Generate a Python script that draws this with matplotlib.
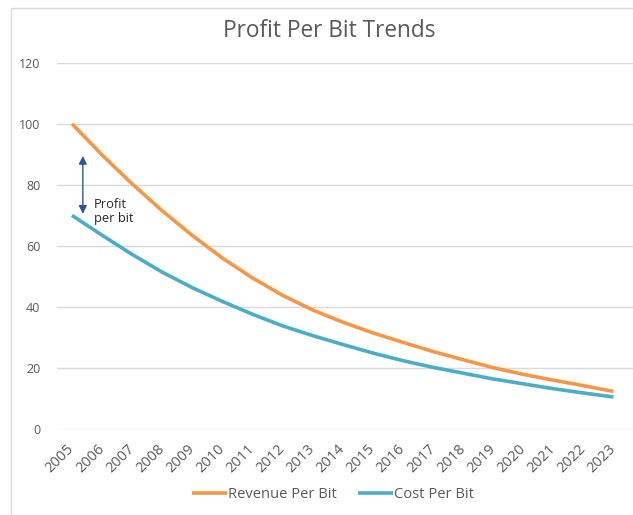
import matplotlib.pyplot as plt
from matplotlib.patches import Rectangle

plt.rcParams['font.family'] = ['Open Sans', 'DejaVu Sans']

years = [str(y) for y in range(2005, 2024)]
revenue_per_bit = [100, 89.8, 80.3, 71.5, 63.4, 56.0, 49.5, 43.8, 39.0, 35.0,
                   31.5, 28.4, 25.4, 22.7, 20.1, 17.9, 16.0, 14.2, 12.3]
cost_per_bit = [70, 63.5, 57.2, 51.4, 46.3, 41.8, 37.6, 33.8, 30.6, 27.7,
                24.9, 22.4, 20.2, 18.3, 16.4, 14.8, 13.2, 11.8, 10.5]
yticks = [0, 20, 40, 60, 80, 100, 120]

grey = '#595959'

fig = plt.figure(figsize=(6.33, 5.15), dpi=100)
ax = fig.add_axes([0.09, 0.167, 0.91, 0.711])

x = list(range(len(years)))
ax.plot(x, revenue_per_bit, color='#F79646', lw=2.6, label='Revenue Per Bit',
        solid_capstyle='butt', solid_joinstyle='round')
ax.plot(x, cost_per_bit, color='#4BACC6', lw=2.6, label='Cost Per Bit',
        solid_capstyle='butt', solid_joinstyle='round')

ax.set_xlim(-0.5, 18.65)
ax.set_ylim(0, 120)
ax.set_yticks(yticks)
ax.set_xticks(x)
ax.set_xticklabels(years, rotation=45, ha='right', va='center', rotation_mode='anchor')
ax.tick_params(axis='both', length=0, colors=grey)
ax.tick_params(axis='y', pad=12, labelsize=9)
ax.tick_params(axis='x', pad=13, labelsize=10.5)
ax.grid(axis='y', color='#D9D9D9', lw=1)
ax.set_axisbelow(True)
for s in ax.spines.values():
    s.set_visible(False)

# profit annotation
ax.annotate('', xy=(0.36, 70.5), xytext=(0.36, 89.5),
            arrowprops=dict(arrowstyle='<|-|>', color='#2F5597', lw=1,
                            mutation_scale=12, shrinkA=0, shrinkB=0))
ax.text(0.73, 71.2, 'Profit\nper bit', fontsize=9.3, color='#262626',
        va='center', ha='left', linespacing=1.1)

fig.text(0.52, 0.94, 'Profit Per Bit Trends', ha='center', va='center',
         fontsize=16.3, color=grey)

leg = ax.legend(loc='center', bbox_to_anchor=(0.526, 0.039), bbox_transform=fig.transFigure,
                ncol=2, frameon=False, fontsize=10.6, handlelength=2.4,
                handletextpad=0.05, columnspacing=1.4)
for t in leg.get_texts():
    t.set_color(grey)

# chart border
fig.patches.append(Rectangle((11 / 633, -0.1), 1.1, 1 - 8 / 515 + 0.1,
                             transform=fig.transFigure, fill=False,
                             edgecolor='#D9D9D9', lw=1))

plt.savefig('out.png', dpi=100)
